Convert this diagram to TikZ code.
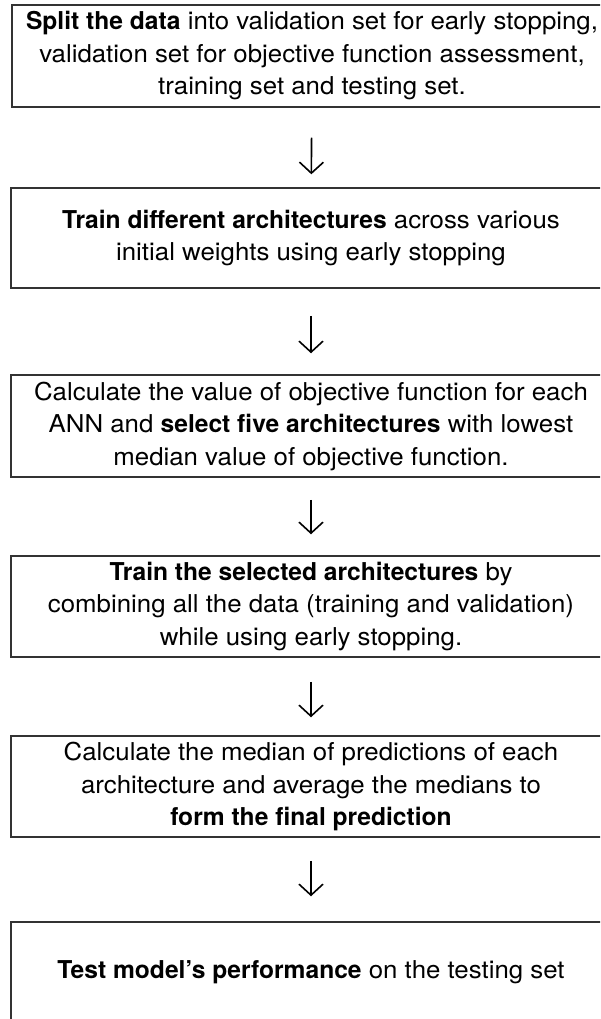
\documentclass[tikz,border=0pt]{standalone}
\usepackage{fontspec}
\setmainfont{TeX Gyre Heros}[UprightFeatures={FakeStretch=1.05}, BoldFeatures={FakeStretch=1.0}]
\usetikzlibrary{arrows.meta}
\tikzset{
  box/.style={draw=black!80, line width=1.5pt, minimum width=600pt, align=center, inner sep=0pt,
    font=\fontsize{24.6}{32.5}\selectfont},
  arr/.style={line width=1.6pt, -{Straight Barb[length=11pt,width=24pt,line width=1.6pt]}},
}
\begin{document}
\begin{tikzpicture}[x=1pt,y=-1pt]
\useasboundingbox (0,0) rectangle (600,1019);
\clip (0,0) rectangle (600,1019);
\fill[white] (0,0) rectangle (600,1019);
\node[box, minimum height=102pt] (b1) at (312,56)
  {\textbf{Split the data} into validation set for early stopping,\\
   validation set for objective function assessment,\\
   training set and testing set.};
\node[box, minimum height=100pt] (b2) at (311,238)
  {\textbf{Train different architectures} across various\\
   initial weights using early stopping};
\node[box, minimum height=102pt] (b3) at (311,426)
  {Calculate the value of objective function for each\\
   ANN and \textbf{select five architectures} with lowest\\
   median value of objective function.};
\node[box, minimum height=101pt] (b4) at (311,606.5)
  {\textbf{Train the selected architectures} by\\
   combining all the data (training and validation)\\
   while using early stopping.};
\node[box, minimum height=101pt] (b5) at (311,786.5)
  {Calculate the median of predictions of each\\
   architecture and average the medians to\\
   \textbf{form the final prediction}};
\node[box, minimum height=100pt] (b6) at (311,972)
  {\textbf{Test model’s performance} on the testing set};
\draw[arr, shorten <=30pt, shorten >=13pt] (b1) -- (b2);
\draw[arr, shorten <=27pt, shorten >=21pt] (b2) -- (b3);
\draw[arr, shorten <=22pt, shorten >=21pt] (b3) -- (b4);
\draw[arr, shorten <=24pt, shorten >=18pt] (b4) -- (b5);
\draw[arr, shorten <=23pt, shorten >=25pt] (b5) -- (b6);
\end{tikzpicture}
\end{document}
